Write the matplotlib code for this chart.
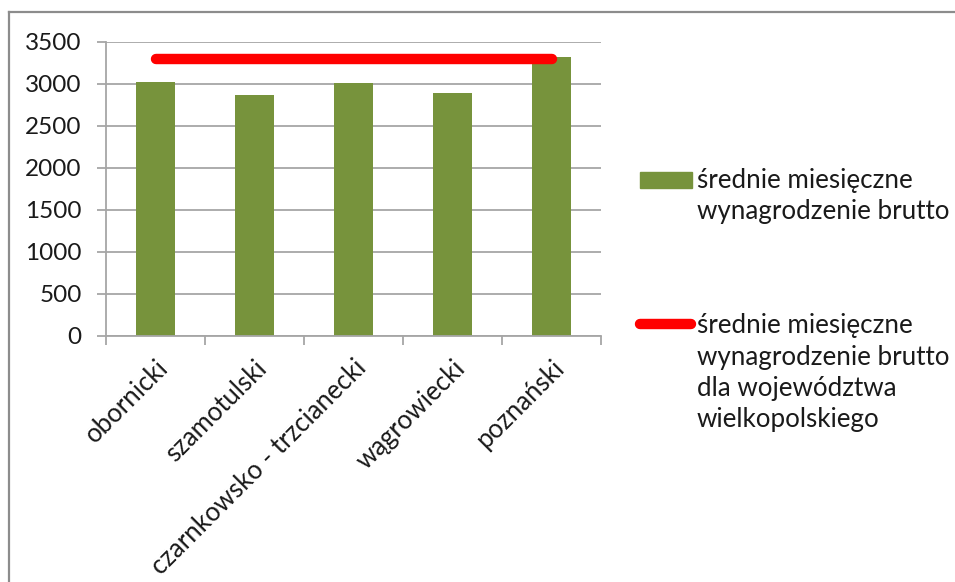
import matplotlib
matplotlib.use("Agg")
import matplotlib.pyplot as plt
from matplotlib.lines import Line2D
from matplotlib.patches import Rectangle

categories = ["obornicki", "szamotulski", "czarnkowsko - trzcianecki", "wągrowiecki", "poznański"]
salary = [3027, 2864, 3015, 2895, 3318]
voivodeship_avg = [3292, 3292, 3292, 3292, 3292]
yticks = [0, 500, 1000, 1500, 2000, 2500, 3000, 3500]
legend_labels = ["średnie miesięczne\nwynagrodzenie brutto",
                 "średnie miesięczne\nwynagrodzenie brutto\ndla województwa\nwielkopolskiego"]

GREEN = "#77933C"
RED = "#FF0000"
GRID = "#A6A6A6"
TXT = "#1a1a1a"
FONT = "Lato"

plt.rcParams['font.family'] = [FONT, 'DejaVu Sans']

W, H = 955, 582
fig = plt.figure(figsize=(W / 100, H / 100), dpi=100)

def fx(px):
    return px / W

def fy(py):
    return 1 - py / H

ax = fig.add_axes([fx(106), fy(336), fx(601) - fx(106), fy(42) - fy(336)])
x = list(range(len(categories)))
ax.bar(x, salary, width=0.4, color=GREEN, zorder=2)
ax.plot(x, voivodeship_avg, color=RED, lw=7.5, solid_capstyle='round', zorder=3)

ax.set_xlim(-0.5, len(categories) - 0.5)
ax.set_ylim(0, 3500)
ax.set_yticks(yticks)
ax.set_yticklabels([str(v) for v in yticks])
ax.yaxis.grid(True, color=GRID, lw=1.3, zorder=0)
ax.set_axisbelow(True)

for s in ['top', 'right']:
    ax.spines[s].set_visible(False)
for s in ['left', 'bottom']:
    ax.spines[s].set_color(GRID)
    ax.spines[s].set_linewidth(1.3)

ax.tick_params(axis='y', length=6.5, width=1.3, color=GRID, pad=11, labelsize=17.5, labelcolor=TXT)
ax.set_xticks(x)
ax.set_xticklabels(categories, rotation=45, ha='right', va='top', rotation_mode='anchor')
ax.set_xticks([i - 0.5 for i in range(len(categories) + 1)], minor=True)
ax.tick_params(axis='x', which='major', length=0, pad=14, labelsize=18.5, labelcolor=TXT)
ax.tick_params(axis='x', which='minor', length=6.5, width=1.3, color=GRID)

# chart border
fig.add_artist(Line2D([fx(9), 1], [fy(12), fy(12)], color="#8C8C8C", lw=1.6))
fig.add_artist(Line2D([fx(9), fx(9)], [fy(12), 0], color="#8C8C8C", lw=1.6))

# legend
fig.add_artist(Rectangle((fx(640), fy(188)), fx(692) - fx(640), fy(172) - fy(188), color=GREEN))
fig.add_artist(Line2D([fx(640), fx(691)], [fy(324), fy(324)], color=RED, lw=7.5, solid_capstyle='round'))
entry_baselines = [188, 333]
pitch = 31.5
for lab, base in zip(legend_labels, entry_baselines):
    for i, line in enumerate(lab.split("\n")):
        fig.text(fx(697), fy(base + i * pitch), line, fontsize=18.7, color=TXT,
                 va='baseline', ha='left')

fig.savefig("out.png", dpi=100, facecolor="white")
